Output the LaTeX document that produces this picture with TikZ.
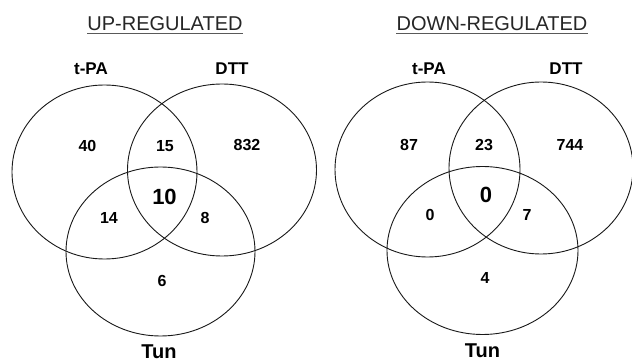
\documentclass[tikz,border=0pt]{standalone}
\usepackage{fontspec}
\setmainfont{Liberation Sans}
\begin{document}
\begin{tikzpicture}[x=1pt,y=-1pt,
  set/.style={draw=black!90,line width=0.9pt},
  heading/.style={inner sep=0pt,anchor=base,text=black!85,font=\fontsize{20}{22}\selectfont},
  uline/.style={draw=black!65,line width=1pt},
  setname/.style={inner sep=0pt,anchor=base,font=\bfseries\fontsize{17}{19}\selectfont},
  bottomname/.style={inner sep=0pt,anchor=base,font=\bfseries\fontsize{20}{22}\selectfont},
  count/.style={inner sep=0pt,font=\bfseries\fontsize{16}{18}\selectfont},
  core/.style={inner sep=0pt,font=\bfseries\fontsize{22}{24}\selectfont}]
\useasboundingbox[fill=white] (0,0) rectangle (632,363);

% ---------- up-regulated genes ----------
\node[heading] (uptitle) at (165,30.7) {UP-REGULATED};
\draw[uline] ([yshift=-2.6pt]uptitle.base west) -- ([yshift=-2.6pt]uptitle.base east);

\draw[set] (104.5,172) ellipse [x radius=92.5pt, y radius=87pt];
\draw[set] (222,170) ellipse [x radius=94.5pt, y radius=86pt];
\draw[set] (160.5,251.5) ellipse [x radius=94.5pt, y radius=84.5pt];

\node[setname] (uptpa) at (91,75) {t-PA};
\node[setname] (updtt) at (232,75) {DTT};
\node[bottomname] (uptun) at (159,359) {Tun};

\node[count] (upa) at (87.5,145.5) {40};
\node[count] (upab) at (165,146) {15};
\node[count] (upb) at (247,145.5) {832};
\node[core]  (upabc) at (164.5,196.5) {10};
\node[count] (upac) at (109,218) {14};
\node[count] (upbc) at (205,218) {8};
\node[count] (upc) at (162,281) {6};

% ---------- down-regulated genes ----------
\node[heading] (downtitle) at (492,30.5) {DOWN-REGULATED};
\draw[uline] ([yshift=-2.6pt]downtitle.base west) -- ([yshift=-2.6pt]downtitle.base east);

\draw[set] (427.5,169.5) ellipse [x radius=92.5pt, y radius=87.5pt];
\draw[set] (541,168) ellipse [x radius=92pt, y radius=86pt];
\draw[set] (482.5,250.5) ellipse [x radius=95.5pt, y radius=84pt];

\node[setname] (dntpa) at (429,75) {t-PA};
\node[setname] (dndtt) at (566,75) {DTT};
\node[bottomname] (dntun) at (482.5,358) {Tun};

\node[count] (dna) at (409,145) {87};
\node[count] (dnab) at (484,145.5) {23};
\node[count] (dnb) at (570,145) {744};
\node[core]  (dnabc) at (486,194.5) {0};
\node[count] (dnac) at (430,215) {0};
\node[count] (dnbc) at (527,215) {7};
\node[count] (dnc) at (485,278) {4};
\end{tikzpicture}
\end{document}
